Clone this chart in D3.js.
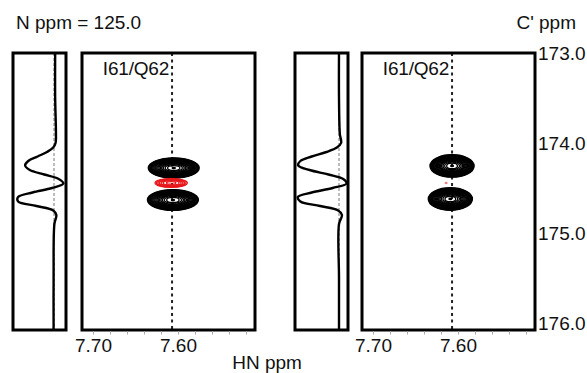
<!DOCTYPE html>
<html>
<head>
<meta charset="utf-8">
<script src="https://cdn.jsdelivr.net/npm/d3@7"></script>
<style>
  html, body { margin: 0; padding: 0; background: #fff; }
  svg text { font-family: "Liberation Sans", Arial, sans-serif; fill: #111; }
</style>
</head>
<body>
<svg id="chart" width="587" height="373"></svg>
<script>
// ── Data ─────────────────────────────────────────────────────
const nPlane      = '125.0';
const assignment  = 'I61/Q62';
const markerHN    = 7.607;                 // dotted guide through the peak
const hnTicks     = [7.70, 7.68, 7.66, 7.64, 7.62, 7.60, 7.58, 7.56, 7.54, 7.52];
const hnLabels    = [7.70, 7.60];
const cTicks      = [173.0, 174.0, 175.0, 176.0];

// 1D slice through the peak (C' ppm vs normalised intensity)
const sliceC  = [173.00, 173.50, 173.90, 174.00, 174.05, 174.10, 174.15, 174.20, 174.25,
                 174.30, 174.35, 174.40, 174.45, 174.50, 174.55, 174.60, 174.65, 174.70,
                 174.75, 174.80, 174.90, 175.50, 176.08];
const slice1I = [-0.03, -0.03, -0.05, -0.04, 0.02, 0.18, 0.42, 0.66, 0.74,
                 0.62, 0.25, -0.12, -0.24, 0.05, 0.55, 0.92, 0.92, 0.45,
                 0.02, -0.06, -0.01, 0.01, 0.01];
const slice2I = [0.00, 0.00, -0.02, -0.05, 0.05, 0.30, 0.65, 0.92, 0.97,
                 0.70, 0.25, -0.10, -0.18, 0.15, 0.65, 0.98, 0.92, 0.45,
                 0.02, -0.07, 0.00, 0.00, 0.00];

// contour peaks: position, height, half widths at the lowest level (ppm)
const peaks1 = [
  { hn: 7.605, c: 174.278, h: 1.0, wHN: 0.030, wC: 0.112, color: '#000' },
  { hn: 7.606, c: 174.633, h: 1.0, wHN: 0.030, wC: 0.115, color: '#000' },
  { hn: 7.608, c: 174.444, h: 0.2, wHN: 0.019, wC: 0.048, color: '#e8191c' },
];
const peaks2 = [
  { hn: 7.607, c: 174.255, h: 1.0, wHN: 0.026, wC: 0.125, color: '#000' },
  { hn: 7.609, c: 174.622, h: 1.0, wHN: 0.026, wC: 0.125, color: '#000' },
  { hn: 7.614, c: 174.444, h: 0.09, wHN: 0.001, wC: 0.006, color: '#f08080' },
];
const contourLevels = [0.080, 0.092, 0.106, 0.122, 0.140, 0.161, 0.185, 0.213, 0.245,
                       0.281, 0.324, 0.372, 0.428, 0.492, 0.566, 0.651, 0.749, 0.861, 0.990];

// ── Layout ───────────────────────────────────────────────────
const plotTop = 53, plotBottom = 330;
const panels = [
  { strip: [13, 66],   main: [82, 255],  zero: 41, slice: slice1I, peaks: peaks1 },
  { strip: [295, 348], main: [362, 535], zero: 44, slice: slice2I, peaks: peaks2 },
];
const font = '"Liberation Sans", Arial, sans-serif';
const fs = 19;

const svg = d3.select('#chart');
const y = d3.scaleLinear().domain([173, 176]).range([plotTop, 323]);

panels.forEach((p, pi) => {
  // ── strip with 1D slice ─────────────────────────────────
  const sx = d3.scaleLinear().domain([0, 1])
    .range([p.strip[0] + p.zero, p.strip[0] + 2]);

  svg.append('line')
    .attr('x1', sx(0)).attr('x2', sx(0))
    .attr('y1', plotTop).attr('y2', plotBottom)
    .attr('stroke', '#555').attr('stroke-width', 0.8)
    .attr('stroke-dasharray', '3,2');

  svg.append('path')
    .datum(sliceC.map((c, i) => [sx(p.slice[i]), y(c)]))
    .attr('fill', 'none')
    .attr('stroke', '#000')
    .attr('stroke-width', 2.4)
    .attr('d', d3.line().curve(d3.curveCatmullRom.alpha(0.5)));

  svg.append('rect')
    .attr('x', p.strip[0]).attr('y', plotTop)
    .attr('width', p.strip[1] - p.strip[0]).attr('height', plotBottom - plotTop)
    .attr('fill', 'none').attr('stroke', '#000').attr('stroke-width', 3);

  // ── main 2D panel ───────────────────────────────────────
  const x = d3.scaleLinear()
    .domain([7.70 + 11 / 850, 7.70 - 162 / 850])
    .range(p.main);

  const g = svg.append('g');

  g.append('line')
    .attr('x1', x(markerHN)).attr('x2', x(markerHN))
    .attr('y1', plotTop).attr('y2', plotBottom)
    .attr('stroke', '#222').attr('stroke-width', 2)
    .attr('stroke-dasharray', '3,3.5');

  p.peaks.forEach(pk => {
    const lv = contourLevels.filter(l => l < pk.h);
    const L0 = lv[0];
    const frac = l => Math.sqrt(Math.log(pk.h / l) / Math.log(pk.h / L0));
    g.append('g').selectAll('ellipse')
      .data(lv)
      .join('ellipse')
      .attr('cx', x(pk.hn))
      .attr('cy', y(pk.c))
      .attr('rx', l => Math.abs(x(pk.hn + pk.wHN) - x(pk.hn)) * frac(l))
      .attr('ry', l => Math.abs(y(pk.c + pk.wC) - y(pk.c)) * frac(l))
      .attr('fill', 'none')
      .attr('stroke', pk.color)
      .attr('stroke-width', 1.3);
  });

  g.append('rect')
    .attr('x', p.main[0]).attr('y', plotTop)
    .attr('width', p.main[1] - p.main[0]).attr('height', plotBottom - plotTop)
    .attr('fill', 'none').attr('stroke', '#000').attr('stroke-width', 3);

  // bottom axis
  const ax = svg.append('g').attr('transform', `translate(0,${plotBottom + 1.5})`)
    .call(d3.axisBottom(x).tickValues(hnTicks).tickSize(3)
      .tickFormat(d => hnLabels.some(v => Math.abs(v - d) < 1e-6) ? d3.format('.2f')(d) : ''));
  ax.select('.domain').remove();
  ax.selectAll('.tick line').attr('stroke', '#aaa');
  ax.selectAll('.tick text').attr('y', 7).attr('font-size', fs).attr('fill', '#111')
    .attr('font-family', font);

  // peak label
  svg.append('text')
    .attr('x', x(markerHN) - 3).attr('y', 75)
    .attr('text-anchor', 'end')
    .attr('font-size', fs)
    .attr('letter-spacing', -0.2)
    .text(assignment);

  // right axis labels (second panel only)
  if (pi === 1) {
    const ay = svg.append('g').attr('transform', `translate(${p.main[1] + 1},0)`)
      .call(d3.axisRight(y).tickValues(cTicks).tickSize(0).tickFormat(d3.format('.1f')));
    ay.select('.domain').remove();
    ay.selectAll('.tick text').attr('x', 2).attr('font-size', fs).attr('fill', '#111')
      .attr('font-family', font);
  }
});

// ── Titles ───────────────────────────────────────────────────
svg.append('text').attr('x', 16).attr('y', 29)
  .attr('font-size', fs)
  .text(`N ppm = ${nPlane}`);

svg.append('text').attr('x', 576).attr('y', 29)
  .attr('text-anchor', 'end')
  .attr('font-size', fs)
  .text("C' ppm");

svg.append('text').attr('x', 267).attr('y', 369)
  .attr('text-anchor', 'middle')
  .attr('font-size', fs)
  .text('HN ppm');
</script>
</body>
</html>
